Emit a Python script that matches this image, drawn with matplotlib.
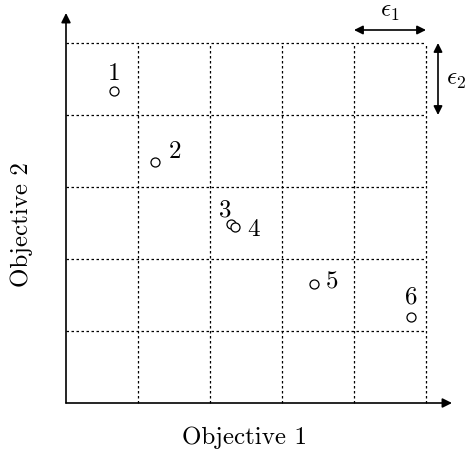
import matplotlib
matplotlib.use("Agg")
import matplotlib.pyplot as plt

plt.rcParams['font.family'] = ['cmr10', 'DejaVu Serif']
plt.rcParams['mathtext.fontset'] = 'cm'
plt.rcParams['axes.unicode_minus'] = False

# data
labels = ["1", "2", "3", "4", "5", "6"]
obj1 = [0.67, 1.24, 2.29, 2.35, 3.44, 4.79]
obj2 = [4.33, 3.35, 2.49, 2.44, 1.65, 1.19]
grid_x = [1, 2, 3, 4, 5]
grid_y = [1, 2, 3, 4, 5]

# label offsets in points
offsets = [(0, 13), (14, 8), (-4, 10), (13, -1.5), (13, 2), (0, 15)]

fig = plt.figure(figsize=(4.66, 4.56), dpi=100)
ax = fig.add_axes([0, 0, 1, 1])
ax.set_xlim(-66 / 72, (466 - 66) / 72)
ax.set_ylim((404 - 456) / 72, 404 / 72)
ax.axis('off')

dot = dict(color='black', lw=0.9, ls=(0, (2, 2)))
for gx in grid_x:
    ax.plot([gx, gx], [0, grid_y[-1]], **dot)
for gy in grid_y:
    ax.plot([0, grid_x[-1]], [gy, gy], **dot)

# axes arrows
ax.annotate('', xy=((452 - 66) / 72, 0), xytext=(0, 0),
            arrowprops=dict(arrowstyle='-|>', color='black', lw=1.2,
                            mutation_scale=14, shrinkA=0, shrinkB=0))
ax.annotate('', xy=(0, (404 - 14) / 72), xytext=(0, 0),
            arrowprops=dict(arrowstyle='-|>', color='black', lw=1.2,
                            mutation_scale=14, shrinkA=0, shrinkB=0))

# epsilon arrows
ax.annotate('', xy=(grid_x[-1], (404 - 31) / 72), xytext=(grid_x[-2], (404 - 31) / 72),
            arrowprops=dict(arrowstyle='<|-|>', color='black', lw=1.2,
                            mutation_scale=13, shrinkA=0, shrinkB=0))
ax.text((grid_x[-2] + grid_x[-1]) / 2, (404 - 12) / 72, r'$\epsilon_1$',
        ha='center', va='center', fontsize=18)
ax.annotate('', xy=((438 - 66) / 72, grid_y[-1]), xytext=((438 - 66) / 72, grid_y[-2]),
            arrowprops=dict(arrowstyle='<|-|>', color='black', lw=1.2,
                            mutation_scale=13, shrinkA=0, shrinkB=0))
ax.text((456 - 66) / 72, (grid_y[-2] + grid_y[-1]) / 2, r'$\epsilon_2$',
        ha='center', va='center', fontsize=18)

ax.plot(obj1, obj2, 'o', mfc='white', mec='black', ms=6.5, mew=0.9, ls='none')
for lab, x, y, off in zip(labels, obj1, obj2, offsets):
    ax.annotate(lab, (x, y), xytext=off, textcoords='offset points',
                ha='center', va='center', fontsize=18)

ax.text((245 - 66) / 72, (404 - 438) / 72, 'Objective 1', ha='center', va='center', fontsize=18)
ax.text((22 - 66) / 72, (404 - 225) / 72, 'Objective 2', ha='center', va='center',
        fontsize=18, rotation=90)

fig.savefig('out.png', dpi=100)
